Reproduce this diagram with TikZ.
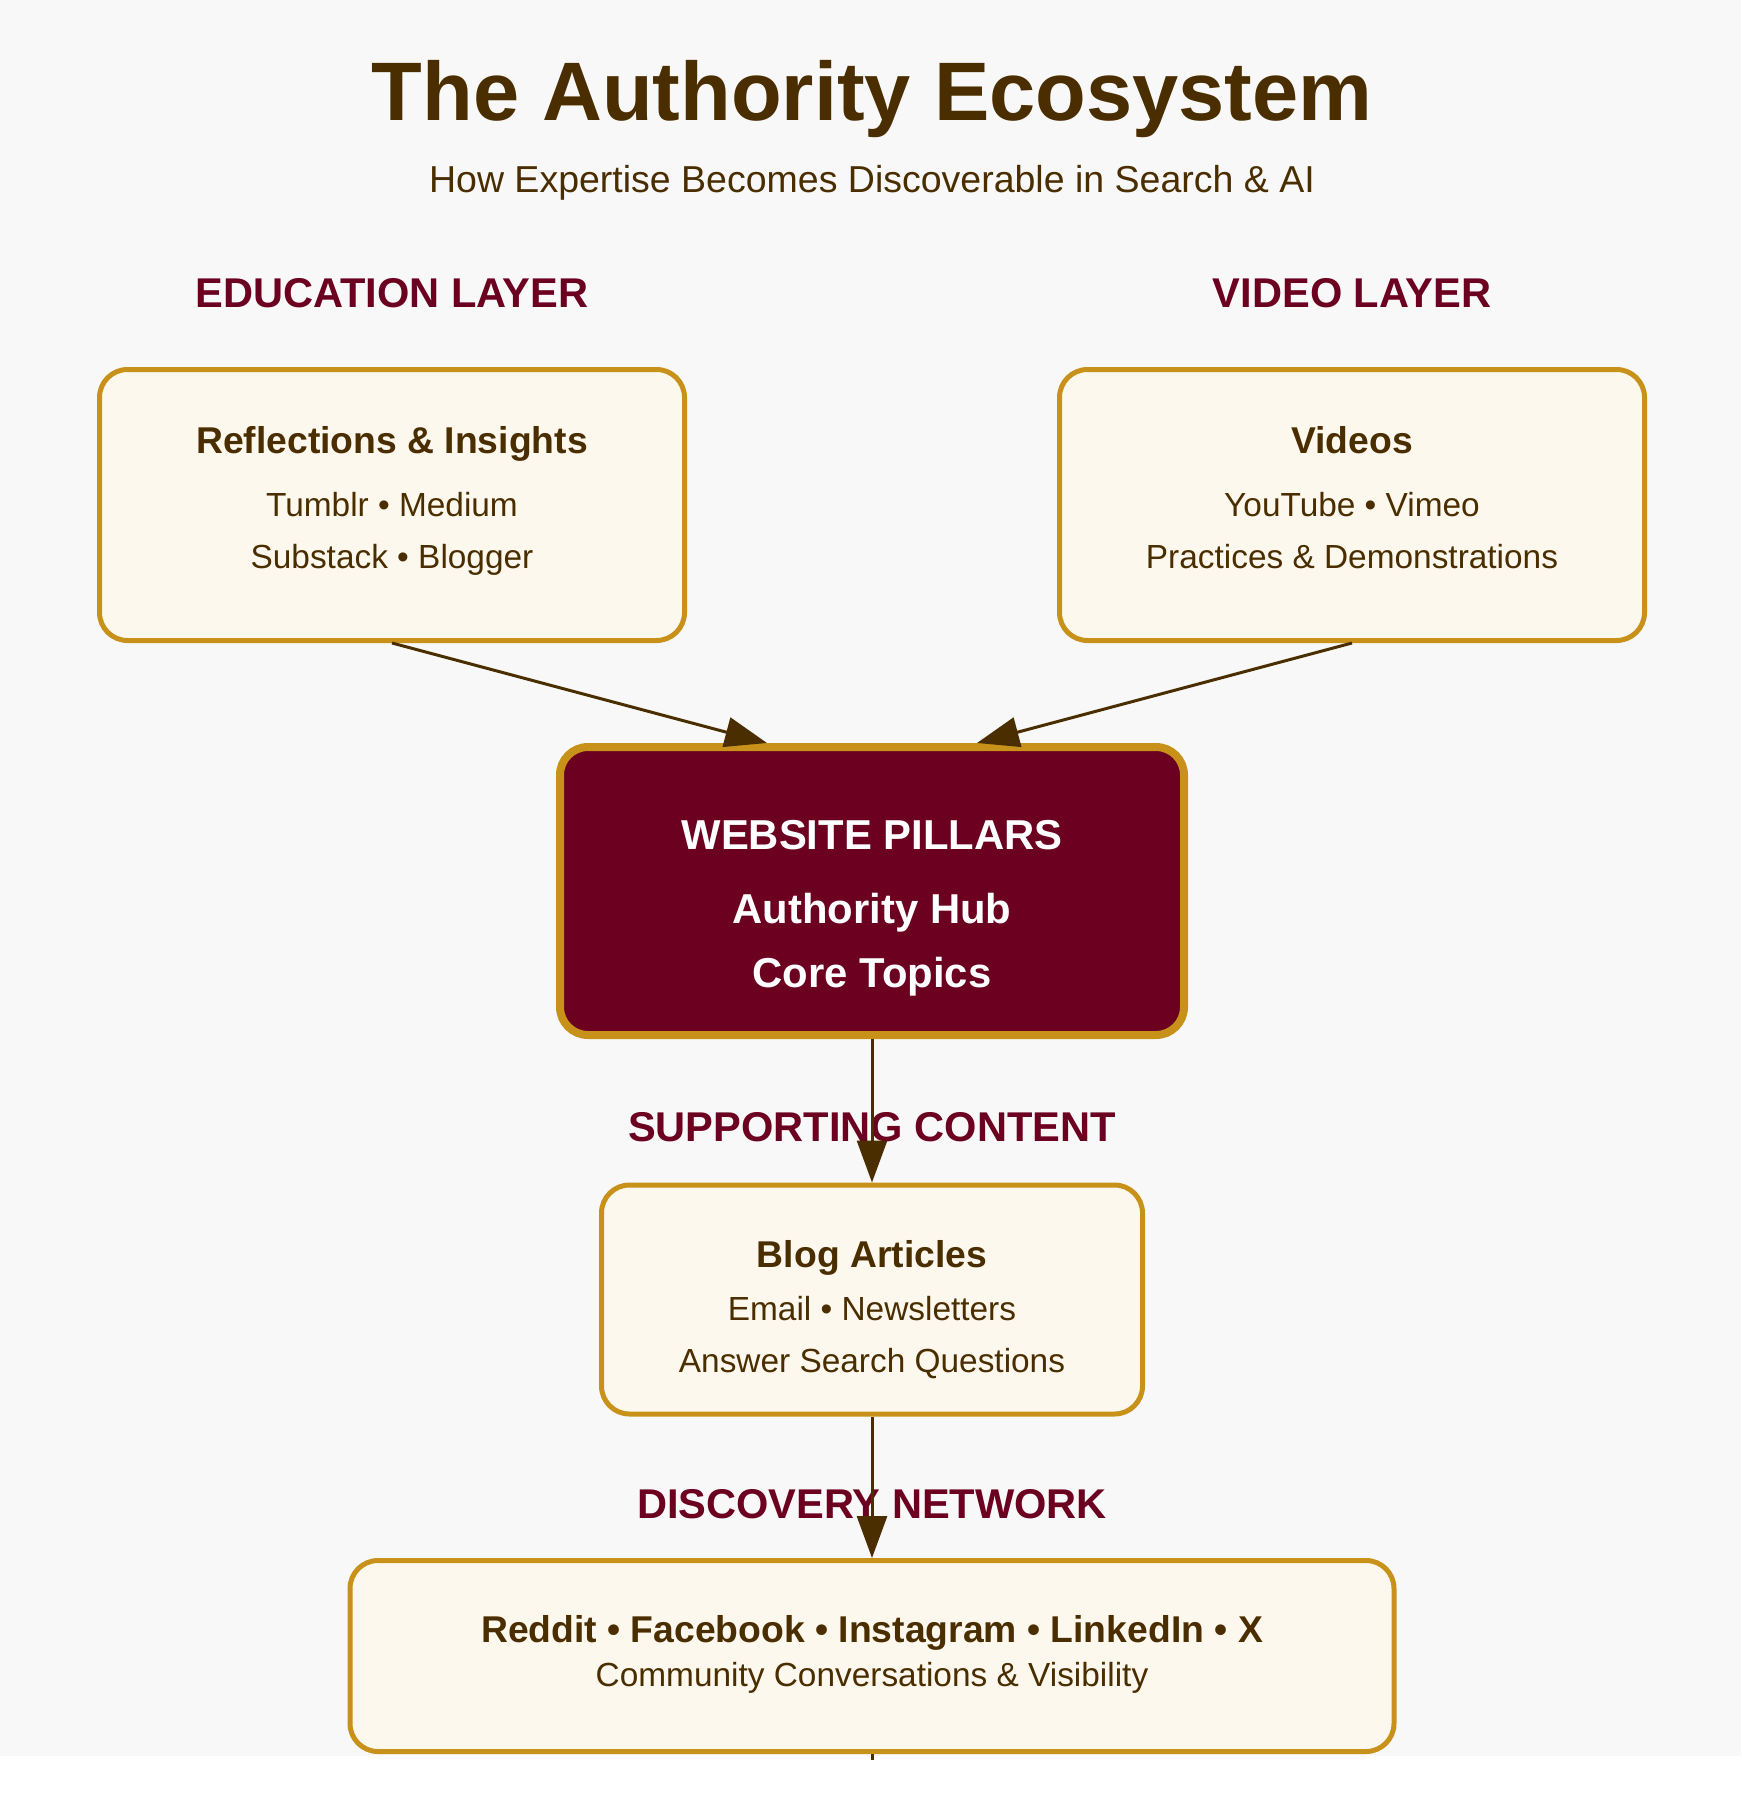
\documentclass[tikz,border=0pt]{standalone}
\usepackage{fontspec}
\setmainfont{Liberation Sans}
\usetikzlibrary{arrows.meta}
\definecolor{bgc}{HTML}{F8F8F8}
\definecolor{brownc}{HTML}{4A2E00}
\definecolor{maroonc}{HTML}{6B0020}
\definecolor{goldc}{HTML}{C8921A}
\definecolor{creamc}{HTML}{FDF8EE}
\tikzset{
  card/.style={draw=goldc, line width=5pt, fill=creamc, rounded corners=28pt, inner sep=0pt, anchor=center},
  hubbox/.style={draw=goldc, line width=8pt, fill=maroonc, rounded corners=28pt, inner sep=0pt, anchor=center},
  txt/.style={anchor=base, inner sep=0pt, text=brownc},
  boxtitle/.style={txt, font=\fontsize{37.3}{44}\selectfont\bfseries},
  boxline/.style={txt, font=\fontsize{33.4}{40}\selectfont},
  layerlabel/.style={anchor=base, inner sep=0pt, text=maroonc, font=\fontsize{41.6}{48}\selectfont\bfseries},
  hubtxt/.style={anchor=base, inner sep=0pt, text=white, font=\fontsize{41.8}{48}\selectfont\bfseries},
  flow/.style={draw=brownc, line width=3pt, -{Triangle[length=42pt,width=30pt]}},
}
\begin{document}
\begin{tikzpicture}[x=1pt,y=-1pt]
\useasboundingbox (0,0) rectangle (1741,1810);
\fill[white] (0,0) rectangle (1741,1810);
\fill[bgc] (0,0) rectangle (1741,1756);

% title
\node[txt, font=\fontsize{83}{100}\selectfont\bfseries] (title) at (872,120) {The Authority Ecosystem};
\node[txt, font=\fontsize{37.5}{44}\selectfont] (subtitle) at (872,192) {How Expertise Becomes Discoverable in Search \& AI};

% layer labels
\node[layerlabel] (edulabel) at (392,307) {EDUCATION LAYER};
\node[layerlabel] (vidlabel) at (1352,307) {VIDEO LAYER};

% boxes (path size; anchors lie on the outer edge of the border)
\node[card, minimum width=585pt, minimum height=271pt] (edu) at (392,505) {};
\node[card, minimum width=585pt, minimum height=271pt] (vid) at (1352,505) {};
\node[hubbox, minimum width=624pt, minimum height=288pt] (hub) at (872,891) {};
\node[card, minimum width=541pt, minimum height=229pt] (blog) at (872,1299.5) {};
\node[card, minimum width=1044pt, minimum height=191pt] (social) at (872,1656) {};

% education text
\node[boxtitle] (eduT) at (392,453) {Reflections \& Insights};
\node[boxline] (eduA) at (392,516) {Tumblr • Medium};
\node[boxline] (eduB) at (392,568) {Substack • Blogger};

% video text
\node[boxtitle] (vidT) at (1352,453) {Videos};
\node[boxline] (vidA) at (1352,516) {YouTube • Vimeo};
\node[boxline] (vidB) at (1352,568) {Practices \& Demonstrations};

% hub text
\node[hubtxt] (hubA) at (872,849) {WEBSITE PILLARS};
\node[hubtxt] (hubB) at (872,923) {Authority Hub};
\node[hubtxt] (hubC) at (872,987) {Core Topics};

% supporting
\node[layerlabel] (suplabel) at (872,1141) {SUPPORTING CONTENT};
\node[boxtitle] (blogT) at (872,1267) {Blog Articles};
\node[boxline] (blogA) at (872,1320) {Email • Newsletters};
\node[boxline] (blogB) at (872,1372) {Answer Search Questions};

% discovery
\node[layerlabel] (disclabel) at (872,1518) {DISCOVERY NETWORK};
\node[boxtitle] (socT) at (872,1642) {Reddit • Facebook • Instagram • LinkedIn • X};
\node[boxline] (socA) at (872,1686) {Community Conversations \& Visibility};

% connectors
\draw[flow] (edu.south) -- ([xshift=-105pt]hub.north);
\draw[flow] (vid.south) -- ([xshift=105pt]hub.north);
\draw[flow] (hub.south) -- (blog.north);
\draw[flow] (blog.south) -- (social.north);
\coordinate (stub) at (872,1760);
\draw[draw=brownc, line width=3pt] (social.south) -- (stub);
\end{tikzpicture}
\end{document}
